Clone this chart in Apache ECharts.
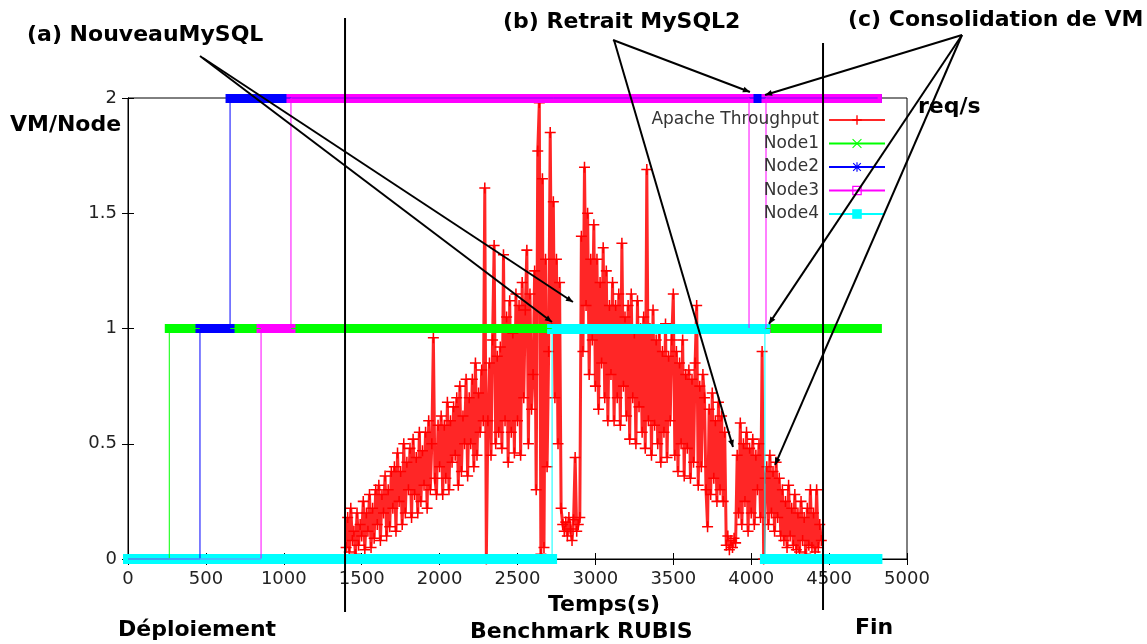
<!DOCTYPE html>
<html><head><meta charset="utf-8">
<script src="https://cdn.jsdelivr.net/npm/echarts@6/dist/echarts.min.js"></script>
<style>html,body{margin:0;padding:0;background:#fff}#c{width:1147px;height:644px}</style>
</head><body><div id="c"></div>
<script>
// ---- Data ----
const apacheStart = 1400;   // first sample (s)
const apacheStep = 10;      // sampling period (s)
const apacheValues = [
  0.05,0.18,0.03,0.22,0.08,0.12,0.02,0.2,0.06,0.15,
  0.1,0.25,0.04,0.2,0.12,0.28,0.05,0.22,0.09,0.3,
  0.15,0.32,0.08,0.28,0.2,0.36,0.1,0.3,0.14,0.38,
  0.22,0.4,0.12,0.46,0.25,0.38,0.15,0.5,0.2,0.42,
  0.3,0.48,0.18,0.52,0.28,0.44,0.2,0.55,0.25,0.47,
  0.32,0.55,0.22,0.6,0.3,0.5,0.96,0.35,0.28,0.58,
  0.4,0.62,0.28,0.58,0.35,0.68,0.3,0.6,0.42,0.66,
  0.45,0.7,0.32,0.75,0.38,0.62,0.5,0.78,0.36,0.7,
  0.5,0.78,0.4,0.85,0.45,0.72,0.55,0.82,0.6,1.61,
  0,0.6,0.85,0.45,0.95,1.36,0.5,0.88,0.55,0.92,
  0.48,1.32,0.6,1.05,0.42,1.12,0.55,0.98,0.46,1.15,
  0.6,1.1,0.45,1.2,0.7,1.08,1.34,0.5,1.15,0.65,
  0.8,1.25,0.3,1.77,1.98,0.02,1.65,0.05,1.3,0.4,
  0.9,1.85,1.0,1.55,0.7,1.3,0.5,1.2,0.22,0.15,
  0.12,0.16,0.1,0.18,0.13,0.08,0.17,0.44,0.12,0.15,
  0.18,1.4,0.9,1.7,1.1,1.5,0.8,1.3,0.95,1.45,
  0.75,1.3,0.65,1.2,0.85,1.35,0.7,1.25,0.6,1.1,
  0.8,1.2,0.6,1.1,0.7,1.15,0.58,1.37,0.75,1.05,
  0.62,1.1,0.52,1.15,0.7,0.98,0.5,1.12,0.66,1.0,
  0.55,1.05,0.48,1.69,0.6,1.0,0.45,1.08,0.58,0.95,
  0.5,0.98,0.42,0.9,0.55,1.02,0.44,0.88,0.6,0.95,
  1.15,0.45,0.9,0.38,0.85,0.5,0.95,0.36,0.8,0.48,
  0.82,0.35,0.78,0.42,0.85,1.1,0.32,0.75,0.4,0.8,
  0.7,0.3,0.14,0.65,0.28,0.72,0.35,0.6,0.25,0.68,
  0.3,0.62,0.25,0.55,0.06,0.1,0.04,0.08,0.05,0.09,
  0.07,0.45,0.2,0.59,0.15,0.5,0.25,0.55,0.12,0.48,
  0.2,0.52,0.15,0.45,0.3,0.5,0.18,0.9,0.0,0.35,
  0.4,0.15,0.45,0.2,0.38,0.12,0.42,0.18,0.35,0.1,
  0.3,0.08,0.25,0.05,0.32,0.1,0.22,0.06,0.28,0.04,
  0.2,0.03,0.25,0.08,0.18,0.02,0.22,0.06,0.3,0.05,
  0.2,0.03,0.3,0.05,0.15,0.08
];
// VM count per node: times (s) at which the level changes, and the level from that time
const node1Times  = [0, 265, 4810];
const node1Levels = [0, 1, 1];
const node2Times  = [0, 462, 655, 4810];
const node2Levels = [0, 1, 2, 2];
const node3Times  = [0, 854, 1046, 3986, 4095, 4810];
const node3Levels = [0, 1, 2, 1, 2, 2];
const node4Times  = [0, 2722, 4088, 4810];
const node4Levels = [0, 1, 0, 0];

const seriesNames = ['Apache Throughput', 'Node1', 'Node2', 'Node3', 'Node4'];
const xTickValues = [0, 500, 1000, 1500, 2000, 2500, 3000, 3500, 4000, 4500, 5000];
const yTickValues = [0, 0.5, 1, 1.5, 2];

// phase separators (s) and annotations
const phaseLines = [1393, 4461];
const phaseLabels = ['Déploiement', 'Benchmark RUBIS', 'Fin'];
const annotA = {text: '(a) NouveauMySQL', targets: [[2721, 1.028], [2856, 1.115]]};
const annotB = {text: '(b) Retrait MySQL2', targets: [[3992, 2.026], [3883, 0.486]]};
const annotC = {text: '(c) Consolidation de VM', targets: [[4089, 2.013], [4114, 1.02], [4153, 0.408]]};

// ---- Chart ----
const FONT = '"DejaVu Sans", sans-serif';
const colors = ['#ff0000', '#00ff00', '#0000ff', '#ff00ff', '#00ffff'];
const symPlus = 'path://M4.3,0H5.7V10H4.3ZM0,4.3H10V5.7H0Z';
const symX = 'path://M0,0.8L0.8,0L10,9.2L9.2,10ZM9.2,0L10,0.8L0.8,10L0,9.2Z';
const symStar = 'path://M4.4,0H5.6V10H4.4ZM0,4.4H10V5.6H0ZM0.6,1.4L1.4,0.6L9.4,8.6L8.6,9.4ZM8.6,0.6L9.4,1.4L1.4,9.4L0.6,8.6Z';
const symOpenSq = 'path://M0,0H10V10H0ZM1.3,1.3V8.7H8.7V1.3Z';
const symbols = [symPlus, symX, symStar, symOpenSq, 'rect'];

const apacheData = apacheValues.map((v, i) => [apacheStart + i * apacheStep, v]);
const nodes = [[node1Times, node1Levels], [node2Times, node2Levels], [node3Times, node3Levels], [node4Times, node4Levels]];

const series = [{
  name: seriesNames[0], type: 'line', data: apacheData,
  symbol: symPlus, symbolSize: 11, showSymbol: true,
  itemStyle: {color: '#ff0000'},
  lineStyle: {color: 'rgba(255,0,0,0.85)', width: 3},
  emphasis: {disabled: true}, animation: false, clip: false, z: 2
}];
const bandWidths = [9, 9, 9, 10];
nodes.forEach((nd, k) => {
  const [ts, ls] = nd;
  series.push({
    name: seriesNames[k + 1], type: 'line', step: 'end',
    data: ts.map((t, i) => [t, ls[i]]),
    symbol: symbols[k + 1], symbolSize: 11, showSymbol: false,
    itemStyle: {color: colors[k + 1]},
    lineStyle: {color: colors[k + 1], width: 1},
    emphasis: {disabled: true}, animation: false, clip: false, z: 3
  });
  const segs = [];
  for (let i = 0; i < ts.length - 1; i++) segs.push({coords: [[ts[i], ls[i]], [ts[i + 1], ls[i]]]});
  series.push({
    name: seriesNames[k + 1] + ' band', type: 'lines', coordinateSystem: 'cartesian2d',
    data: segs, clip: false, silent: true, animation: false,
    lineStyle: {color: colors[k + 1], width: bandWidths[k], opacity: 1, cap: 'square'}, z: 3
  });
});

const legends = seriesNames.map((n, i) => ({
  data: [n], orient: 'vertical', align: 'right', right: 261, top: 110 + i * 23.5,
  padding: 0, itemWidth: 56, itemHeight: 12, selectedMode: false,
  textStyle: {fontFamily: FONT, fontSize: 17, color: '#333', padding: [0, 5, 0, 0], lineHeight: 20},
  itemStyle: {borderWidth: 0}
}));

const axisCommon = {
  axisLine: {show: true, lineStyle: {color: '#000', width: 1}},
  axisTick: {show: true, inside: true, length: 6, lineStyle: {color: '#000'}},
  splitLine: {show: false}
};

const option = {
  backgroundColor: '#fff',
  animation: false,
  grid: {left: 128, right: 240, top: 98, bottom: 85, show: true, borderColor: '#000', borderWidth: 1},
  legend: legends,
  xAxis: [
    Object.assign({type: 'value', min: 0, max: 5000, interval: 500, position: 'bottom',
      axisLabel: {fontFamily: FONT, fontSize: 18, color: '#222', margin: 11,
        formatter: v => xTickValues.includes(v) ? String(v) : ''}}, axisCommon),
    Object.assign({type: 'value', min: 0, max: 5000, interval: 500, position: 'top',
      axisLabel: {show: false}}, axisCommon)
  ],
  yAxis: [
    Object.assign({type: 'value', min: 0, max: 2, interval: 0.5, position: 'left',
      axisLabel: {fontFamily: FONT, fontSize: 18, color: '#222', margin: 11,
        formatter: v => yTickValues.includes(v) ? String(v) : ''}}, axisCommon),
    Object.assign({type: 'value', min: 0, max: 2, interval: 0.5, position: 'right',
      axisLabel: {show: false}}, axisCommon)
  ],
  series: series
};

const chart = echarts.init(document.getElementById('c'), null, {renderer: 'canvas'});
chart.setOption(option);

// ---- Annotations (graphic) ----
function px(p) { return chart.convertToPixel({xAxisIndex: 0, yAxisIndex: 0}, p); }
const g = [];
const BOLD = 'bold 22px "DejaVu Sans", sans-serif';
function text(t, x, y) {
  g.push({type: 'text', x: x, y: y, z: 100, style: {text: t, font: BOLD, fill: '#000', align: 'left', verticalAlign: 'middle'}});
}
function arrow(x1, y1, x2, y2) {
  g.push({type: 'line', z: 100, shape: {x1, y1, x2, y2}, style: {stroke: '#000', lineWidth: 2}});
  const a = Math.atan2(y2 - y1, x2 - x1), L = 7, W = 3;
  const bx = x2 - L * Math.cos(a), by = y2 - L * Math.sin(a);
  g.push({type: 'polygon', z: 101, shape: {points: [[x2, y2], [bx + W * Math.sin(a), by - W * Math.cos(a)], [bx - W * Math.sin(a), by + W * Math.cos(a)]]}, style: {fill: '#000'}});
}
text(annotA.text, 27, 35);
text(annotB.text, 503, 22);
text(annotC.text, 848, 20);
text('VM/Node', 10, 125);
text('req/s', 918, 107);
text('Temps(s)', 548, 605);
text(phaseLabels[0], 118, 630);
text(phaseLabels[1], 470, 632);
text(phaseLabels[2], 855, 628);
const startA = [[200, 56], [203, 58]];
annotA.targets.forEach((t, i) => { const p = px(t); arrow(startA[i][0], startA[i][1], p[0], p[1]); });
annotB.targets.forEach((t, i) => { const p = px(t); arrow(613 + i, 40, p[0], p[1]); });
annotC.targets.forEach(t => { const p = px(t); arrow(962, 35, p[0], p[1]); });
const tops = [18, 43], bottoms = [612, 610];
phaseLines.forEach((t, i) => {
  const x = px([t, 0])[0];
  g.push({type: 'line', z: 100, shape: {x1: x, y1: tops[i], x2: x, y2: bottoms[i]}, style: {stroke: '#000', lineWidth: 2}});
});
chart.setOption({graphic: {elements: g}});
</script></body></html>
